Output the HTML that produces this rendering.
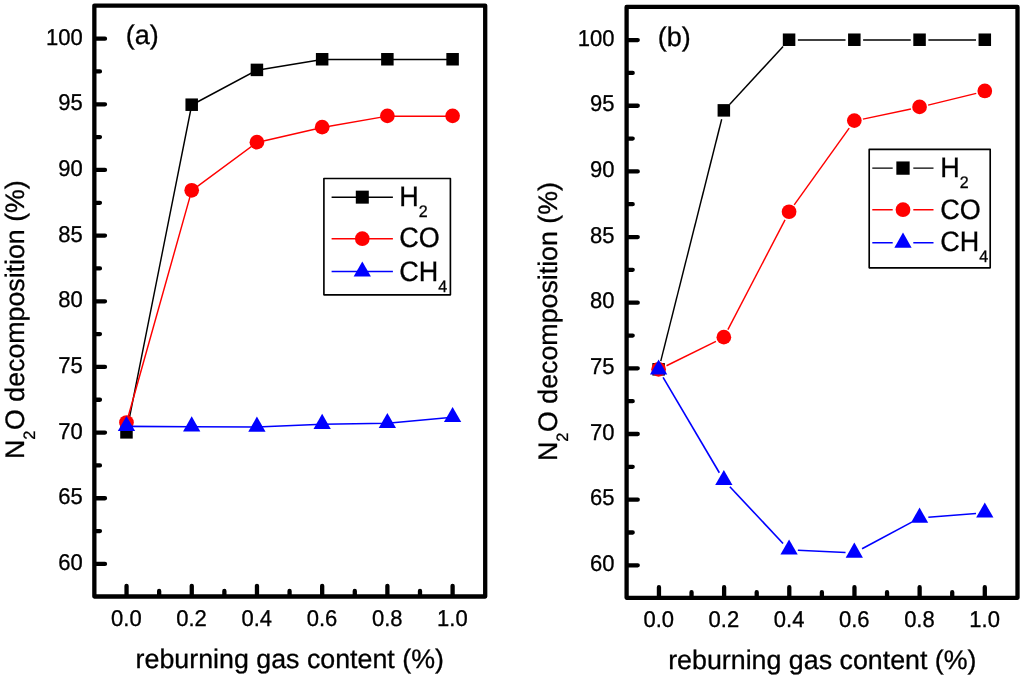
<!DOCTYPE html>
<html lang="en">
<head>
<meta charset="utf-8">
<title>N2O decomposition vs reburning gas content</title>
<style>
html,body{margin:0;padding:0;background:#fff;}
body{width:1024px;height:679px;overflow:hidden;}
svg{display:block;will-change:transform;}
svg text{font-family:"Liberation Sans", Arial, Helvetica, sans-serif;fill:#000;text-rendering:geometricPrecision;stroke:#000;stroke-width:0.3px;}
</style>
</head>
<body>
<svg width="1024" height="679" viewBox="0 0 1024 679">
<rect width="1024" height="679" fill="#fff"/>
<path d="M126.47,432.65 L191.7,105 L256.92,70.2 L322.15,59.56 L387.37,59.56 L452.6,59.56" fill="none" stroke="#000" stroke-width="1.45" stroke-linejoin="round"/>
<rect x="120.22" y="426.1" width="12.5" height="12.5" fill="#000"/>
<rect x="185.45" y="98.45" width="12.5" height="12.5" fill="#000"/>
<rect x="250.67" y="63.65" width="12.5" height="12.5" fill="#000"/>
<rect x="315.9" y="53.01" width="12.5" height="12.5" fill="#000"/>
<rect x="381.12" y="53.01" width="12.5" height="12.5" fill="#000"/>
<rect x="446.35" y="53.01" width="12.5" height="12.5" fill="#000"/>
<path d="M126.47,422.8 L191.7,190.62 L256.92,142.43 L322.15,127.45 L387.37,116.16 L452.6,116.16" fill="none" stroke="#f00" stroke-width="1.45" stroke-linejoin="round"/>
<circle cx="126.47" cy="422.5" r="7.35" fill="#f00"/>
<circle cx="191.7" cy="190.32" r="7.35" fill="#f00"/>
<circle cx="256.92" cy="142.13" r="7.35" fill="#f00"/>
<circle cx="322.15" cy="127.15" r="7.35" fill="#f00"/>
<circle cx="387.37" cy="115.86" r="7.35" fill="#f00"/>
<circle cx="452.6" cy="115.86" r="7.35" fill="#f00"/>
<path d="M126.47,426.34 L191.7,426.74 L256.92,427 L322.15,424.24 L387.37,423.32 L452.6,417.28" fill="none" stroke="#00f" stroke-width="1.6" stroke-linejoin="round"/>
<polygon points="126.47,415.94 135.12,431.04 117.82,431.04" fill="#00f"/>
<polygon points="191.7,416.34 200.35,431.44 183.05,431.44" fill="#00f"/>
<polygon points="256.92,416.6 265.57,431.7 248.27,431.7" fill="#00f"/>
<polygon points="322.15,413.84 330.8,428.94 313.5,428.94" fill="#00f"/>
<polygon points="387.37,412.92 396.02,428.02 378.72,428.02" fill="#00f"/>
<polygon points="452.6,406.88 461.25,421.98 443.95,421.98" fill="#00f"/>
<rect x="94.35" y="5.55" width="390.85" height="590.95" fill="none" stroke="#000" stroke-width="4.3" stroke-linejoin="round"/>
<path d="M95.35,563.92h9.65 M95.35,498.26h9.65 M95.35,432.6h9.65 M95.35,366.94h9.65 M95.35,301.28h9.65 M95.35,235.61h9.65 M95.35,169.95h9.65 M95.35,104.29h9.65 M95.35,38.63h9.65 M95.35,531.09h4.6 M95.35,465.43h4.6 M95.35,399.77h4.6 M95.35,334.11h4.6 M95.35,268.44h4.6 M95.35,202.78h4.6 M95.35,137.12h4.6 M95.35,71.46h4.6 M126.55,595.5v-9.65 M191.76,595.5v-9.65 M256.97,595.5v-9.65 M322.18,595.5v-9.65 M387.39,595.5v-9.65 M452.6,595.5v-9.65 M159.16,595.5v-4.6 M224.37,595.5v-4.6 M289.57,595.5v-4.6 M354.79,595.5v-4.6 M420,595.5v-4.6" fill="none" stroke="#000" stroke-width="4.3" stroke-linecap="round"/>
<text font-size="22" text-anchor="end" transform="translate(82.8,570.02) scale(1,1.04)">60</text>
<text font-size="22" text-anchor="end" transform="translate(82.8,504.36) scale(1,1.04)">65</text>
<text font-size="22" text-anchor="end" transform="translate(82.8,438.7) scale(1,1.04)">70</text>
<text font-size="22" text-anchor="end" transform="translate(82.8,373.04) scale(1,1.04)">75</text>
<text font-size="22" text-anchor="end" transform="translate(82.8,307.38) scale(1,1.04)">80</text>
<text font-size="22" text-anchor="end" transform="translate(82.8,241.71) scale(1,1.04)">85</text>
<text font-size="22" text-anchor="end" transform="translate(82.8,176.05) scale(1,1.04)">90</text>
<text font-size="22" text-anchor="end" transform="translate(82.8,110.39) scale(1,1.04)">95</text>
<text font-size="22" text-anchor="end" transform="translate(82.8,44.73) scale(1,1.04)">100</text>
<text font-size="22" text-anchor="middle" transform="translate(126.35,625.6) scale(1,1.04)">0.0</text>
<text font-size="22" text-anchor="middle" transform="translate(191.56,625.6) scale(1,1.04)">0.2</text>
<text font-size="22" text-anchor="middle" transform="translate(256.77,625.6) scale(1,1.04)">0.4</text>
<text font-size="22" text-anchor="middle" transform="translate(321.98,625.6) scale(1,1.04)">0.6</text>
<text font-size="22" text-anchor="middle" transform="translate(387.19,625.6) scale(1,1.04)">0.8</text>
<text font-size="22" text-anchor="middle" transform="translate(452.4,625.6) scale(1,1.04)">1.0</text>
<text font-size="26.8" text-anchor="middle" x="289.77" y="668.2">reburning gas content (%)</text>
<text font-size="26.75" transform="translate(24.2,459.1) rotate(-90)">N<tspan font-size="16.5" dy="11">2</tspan><tspan dy="-11" dx="0.6">O decomposition (%)</tspan></text>
<text font-size="27" x="125.8" y="44">(a)</text>
<rect x="323.9" y="178.5" width="126.5" height="116.3" fill="#fff" stroke="#000" stroke-width="1.65" stroke-linejoin="round"/>
<path d="M331.6,197.15H392.9" stroke="#000" stroke-width="1.45" fill="none"/>
<rect x="355.8" y="190.65" width="13" height="13" fill="#000"/>
<text font-size="27" transform="translate(399.3,205.6) scale(1,1.04)">H<tspan font-size="16" dy="10.5">2</tspan></text>
<path d="M331.6,238.7H392.9" stroke="#f00" stroke-width="1.45" fill="none"/>
<circle cx="362.3" cy="238.7" r="7.35" fill="#f00"/>
<text font-size="27" transform="translate(399.3,247.4) scale(1,1.04)">CO</text>
<path d="M331.6,271.5H392.9" stroke="#00f" stroke-width="1.6" fill="none"/>
<polygon points="362.3,261.4 370.95,276.5 353.65,276.5" fill="#00f"/>
<text font-size="27" transform="translate(399.3,280.9) scale(1,1.04)">CH<tspan font-size="16" dy="10.5">4</tspan></text>
<line x1="660.75" y1="361.09" x2="721.69" y2="119.21" stroke="#000" stroke-width="1.45"/>
<line x1="729.81" y1="104.21" x2="783.11" y2="46.49" stroke="#000" stroke-width="1.45"/>
<line x1="797.88" y1="40.03" x2="845.52" y2="40.03" stroke="#000" stroke-width="1.45"/>
<line x1="863.12" y1="40.03" x2="910.76" y2="40.03" stroke="#000" stroke-width="1.45"/>
<line x1="928.36" y1="40.03" x2="976" y2="40.03" stroke="#000" stroke-width="1.45"/>
<rect x="652.35" y="363.07" width="12.5" height="12.5" fill="#000"/>
<rect x="717.59" y="104.12" width="12.5" height="12.5" fill="#000"/>
<rect x="782.83" y="33.48" width="12.5" height="12.5" fill="#000"/>
<rect x="848.07" y="33.48" width="12.5" height="12.5" fill="#000"/>
<rect x="913.31" y="33.48" width="12.5" height="12.5" fill="#000"/>
<rect x="978.55" y="33.48" width="12.5" height="12.5" fill="#000"/>
<line x1="666.49" y1="365.73" x2="715.95" y2="341.34" stroke="#f00" stroke-width="1.45"/>
<line x1="727.9" y1="329.64" x2="785.02" y2="219.85" stroke="#f00" stroke-width="1.45"/>
<line x1="794.2" y1="204.89" x2="849.2" y2="128.07" stroke="#f00" stroke-width="1.45"/>
<line x1="862.93" y1="119.1" x2="910.95" y2="109" stroke="#f00" stroke-width="1.45"/>
<line x1="928.11" y1="105.1" x2="976.25" y2="93.33" stroke="#f00" stroke-width="1.45"/>
<circle cx="658.6" cy="369.32" r="7.35" fill="#f00"/>
<circle cx="723.84" cy="337.15" r="7.35" fill="#f00"/>
<circle cx="789.08" cy="211.75" r="7.35" fill="#f00"/>
<circle cx="854.32" cy="120.62" r="7.35" fill="#f00"/>
<circle cx="919.56" cy="106.89" r="7.35" fill="#f00"/>
<circle cx="984.8" cy="90.94" r="7.35" fill="#f00"/>
<line x1="663.08" y1="377.46" x2="719.36" y2="472.74" stroke="#00f" stroke-width="1.6"/>
<line x1="729.86" y1="486.73" x2="783.06" y2="543.49" stroke="#00f" stroke-width="1.6"/>
<line x1="797.87" y1="550.32" x2="845.53" y2="552.52" stroke="#00f" stroke-width="1.6"/>
<line x1="862.08" y1="548.78" x2="911.8" y2="522.15" stroke="#00f" stroke-width="1.6"/>
<line x1="928.33" y1="517.31" x2="976.03" y2="513.57" stroke="#00f" stroke-width="1.6"/>
<polygon points="658.6,359.48 667.25,374.58 649.95,374.58" fill="#00f"/>
<polygon points="723.84,469.91 732.49,485.01 715.19,485.01" fill="#00f"/>
<polygon points="789.08,539.51 797.73,554.61 780.43,554.61" fill="#00f"/>
<polygon points="854.32,542.53 862.97,557.63 845.67,557.63" fill="#00f"/>
<polygon points="919.56,507.6 928.21,522.7 910.91,522.7" fill="#00f"/>
<polygon points="984.8,502.48 993.45,517.58 976.15,517.58" fill="#00f"/>
<rect x="626.6" y="6.9" width="390.9" height="590.9" fill="none" stroke="#000" stroke-width="4.3" stroke-linejoin="round"/>
<path d="M627.6,565.32h10.15 M627.6,499.67h10.15 M627.6,434.01h10.15 M627.6,368.36h10.15 M627.6,302.7h10.15 M627.6,237.04h10.15 M627.6,171.39h10.15 M627.6,105.73h10.15 M627.6,40.08h10.15 M627.6,532.49h5.1 M627.6,466.84h5.1 M627.6,401.18h5.1 M627.6,335.53h5.1 M627.6,269.87h5.1 M627.6,204.22h5.1 M627.6,138.56h5.1 M627.6,72.91h5.1 M658.95,596.8v-9.65 M724.12,596.8v-9.65 M789.29,596.8v-9.65 M854.46,596.8v-9.65 M919.63,596.8v-9.65 M984.8,596.8v-9.65 M691.54,596.8v-4.6 M756.71,596.8v-4.6 M821.88,596.8v-4.6 M887.05,596.8v-4.6 M952.22,596.8v-4.6" fill="none" stroke="#000" stroke-width="4.3" stroke-linecap="round"/>
<text font-size="22" text-anchor="end" transform="translate(614.4,571.07) scale(1,1.04)">60</text>
<text font-size="22" text-anchor="end" transform="translate(614.4,505.42) scale(1,1.04)">65</text>
<text font-size="22" text-anchor="end" transform="translate(614.4,439.76) scale(1,1.04)">70</text>
<text font-size="22" text-anchor="end" transform="translate(614.4,374.11) scale(1,1.04)">75</text>
<text font-size="22" text-anchor="end" transform="translate(614.4,308.45) scale(1,1.04)">80</text>
<text font-size="22" text-anchor="end" transform="translate(614.4,242.79) scale(1,1.04)">85</text>
<text font-size="22" text-anchor="end" transform="translate(614.4,177.14) scale(1,1.04)">90</text>
<text font-size="22" text-anchor="end" transform="translate(614.4,111.48) scale(1,1.04)">95</text>
<text font-size="22" text-anchor="end" transform="translate(614.4,45.83) scale(1,1.04)">100</text>
<text font-size="22" text-anchor="middle" transform="translate(658.75,626.9) scale(1,1.04)">0.0</text>
<text font-size="22" text-anchor="middle" transform="translate(723.92,626.9) scale(1,1.04)">0.2</text>
<text font-size="22" text-anchor="middle" transform="translate(789.09,626.9) scale(1,1.04)">0.4</text>
<text font-size="22" text-anchor="middle" transform="translate(854.26,626.9) scale(1,1.04)">0.6</text>
<text font-size="22" text-anchor="middle" transform="translate(919.43,626.9) scale(1,1.04)">0.8</text>
<text font-size="22" text-anchor="middle" transform="translate(984.6,626.9) scale(1,1.04)">1.0</text>
<text font-size="26.8" text-anchor="middle" x="822.35" y="668.7">reburning gas content (%)</text>
<text font-size="26.75" transform="translate(556.8,461) rotate(-90)">N<tspan font-size="16.5" dy="11">2</tspan><tspan dy="-11" dx="0.6">O decomposition (%)</tspan></text>
<text font-size="27" x="657.8" y="45.6">(b)</text>
<rect x="869.2" y="149.4" width="121" height="118.4" fill="#fff" stroke="#000" stroke-width="1.65" stroke-linejoin="round"/>
<path d="M872.3,168.1H892.7M913.3,168.1H933.5" stroke="#000" stroke-width="1.45" fill="none"/>
<rect x="896.35" y="161.45" width="13.3" height="13.3" fill="#000"/>
<text font-size="27" transform="translate(940.2,177.3) scale(1,1.04)">H<tspan font-size="16" dy="10.5">2</tspan></text>
<path d="M872.3,209.7H892.7M913.3,209.7H933.5" stroke="#f00" stroke-width="1.45" fill="none"/>
<circle cx="903" cy="209.7" r="7.35" fill="#f00"/>
<text font-size="27" transform="translate(940.2,218.5) scale(1,1.04)">CO</text>
<path d="M872.3,242.7H892.7M913.3,242.7H933.5" stroke="#00f" stroke-width="1.6" fill="none"/>
<polygon points="903,232.6 911.65,247.7 894.35,247.7" fill="#00f"/>
<text font-size="27" transform="translate(940.2,251.1) scale(1,1.04)">CH<tspan font-size="16" dy="10.5">4</tspan></text>
</svg>
</body>
</html>
